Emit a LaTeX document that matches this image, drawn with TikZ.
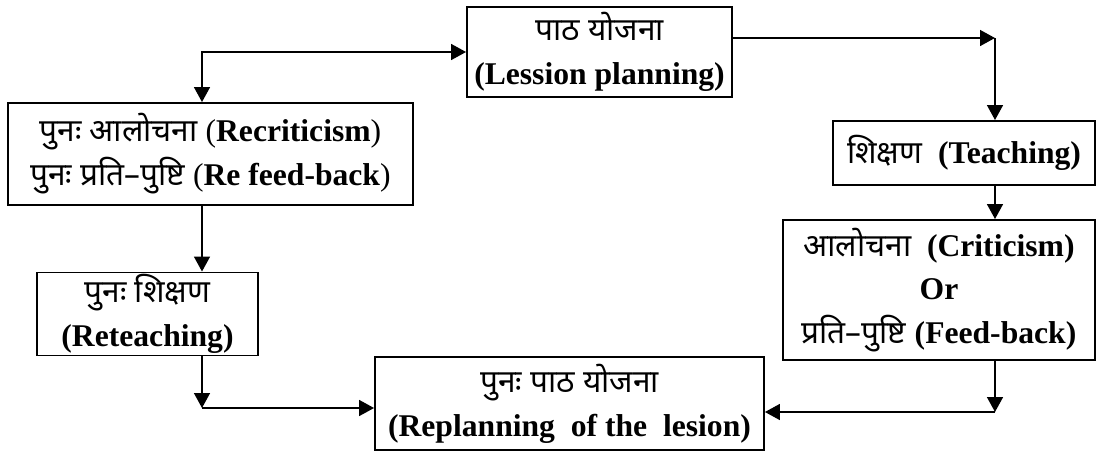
\documentclass[tikz,border=0pt]{standalone}
\usepackage{fontspec}
\setmainfont{Liberation Serif}
\newfontfamily\hindi[Script=Devanagari]{Noto Sans}
\usepackage{tikz}
\usetikzlibrary{arrows.meta}
\usetikzlibrary{calc}
\tikzstyle{stagebox}=[draw,line width=1.1pt,rectangle,inner sep=0pt,align=center,font=\fontsize{18}{25}\selectfont]
\tikzstyle{flowedge} = [draw,line width=1.1pt,-{Triangle[length=8.5pt,width=9pt]}]
\tikzstyle{bothedge} = [draw,line width=1.1pt,{Triangle[length=8.5pt,width=9pt]}-{Triangle[length=8.5pt,width=9pt]}]

\begin{document}
\begin{tikzpicture}[x=0.02cm,y=-0.02cm]

    \useasboundingbox (0,0) rectangle (1098,457);

%Boxes
    \node[stagebox,minimum width=5.30cm,minimum height=1.80cm] (plan) at (599.5,52)
        {{\hindi पाठ योजना}\\\textbf{(Lession planning)}};
    \node[stagebox,minimum width=5.24cm,minimum height=1.28cm] (teach) at (964,153)
        {{\hindi शिक्षण}\ \ \textbf{(Teaching)}};
    \node[stagebox,minimum width=6.24cm,minimum height=2.80cm] (crit) at (939,290)
        {{\hindi आलोचना}\ \ \textbf{(Criticism)}\\\textbf{Or}\\{\hindi प्रति–पुष्टि}\ \textbf{(Feed-back)}};
    \node[stagebox,minimum width=7.78cm,minimum height=1.86cm] (replan) at (569.5,403.5)
        {{\hindi पुनः पाठ योजना}\\\textbf{(Replanning\ \ of the\ \ lesion)}};
    \node[stagebox,minimum width=4.42cm,minimum height=1.66cm] (reteach) at (147.5,314)
        {{\hindi पुनः शिक्षण}\\\textbf{(Reteaching)}};
    \node[stagebox,minimum width=8.10cm,minimum height=2.04cm] (recrit) at (210.5,154)
        {{\hindi पुनः आलोचना}\ (\textbf{Recriticism})\\{\hindi पुनः प्रति–पुष्टि}\ (\textbf{Re feed-back})};

%Corners
    \coordinate (cl) at (202,52);
    \coordinate (cr) at (995,38);
    \coordinate (br) at (995,412);
    \coordinate (bl) at (202,408);

% Edges
    %top
    \path[bothedge] (cl |- recrit.north) -- (cl) -- (plan.west);
    \path[flowedge] (plan.east |- cr) -- (cr);
    %right side
    \foreach \source/\dest in {cr/cr |- teach.north, cr |- teach.south/cr |- crit.north, br |- crit.south/br, br/replan.east |- br}
        \path[flowedge] (\source) -- (\dest);
    %left side
    \foreach \source/\dest in {cl |- recrit.south/cl |- reteach.north, bl |- reteach.south/bl, bl/replan.west |- bl}
        \path[flowedge] (\source) -- (\dest);

\end{tikzpicture}
\end{document}
